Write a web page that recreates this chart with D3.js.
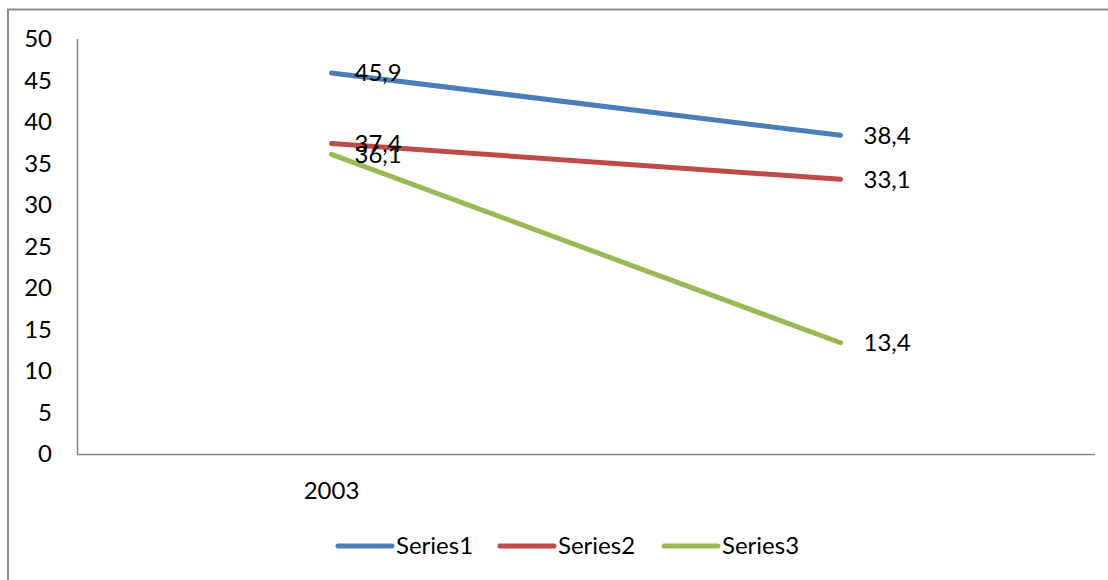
<!DOCTYPE html>
<html><head><meta charset="utf-8">
<script src="https://cdn.jsdelivr.net/npm/d3@7"></script>
<style>body{margin:0;background:#fff;overflow:hidden}</style>
</head><body>
<script>
const categories = ["2003", ""];
const seriesNames = ["Series1", "Series2", "Series3"];
const series1 = [45.9, 38.4];
const series2 = [37.4, 33.1];
const series3 = [36.1, 13.4];
const colors = ["#4A7EBB", "#BE4B48", "#98B954"];
const yTicks = [0, 5, 10, 15, 20, 25, 30, 35, 40, 45, 50];

const W = 1108, H = 580;
const font = "Lato, 'Open Sans', sans-serif";
const fs = 24;
const svg = d3.select("body").append("svg").attr("width", W).attr("height", H);
svg.append("rect").attr("x", 8).attr("y", 9.5).attr("width", 1200).attr("height", 700)
  .attr("fill", "none").attr("stroke", "#8c8c8c").attr("stroke-width", 2);

const x = d3.scaleBand().domain(categories).range([77, 1095]);
const y = d3.scaleLinear().domain([0, 50]).range([454, 39]);

// axes
svg.append("line").attr("x1", 77.5).attr("x2", 77.5).attr("y1", y(50)).attr("y2", y(0))
  .attr("stroke", "#868686").attr("stroke-width", 1.5);
svg.append("line").attr("x1", 77).attr("x2", 1095).attr("y1", y(0)+0.5).attr("y2", y(0)+0.5)
  .attr("stroke", "#868686").attr("stroke-width", 1.5);

svg.selectAll(".yt").data(yTicks).enter().append("text")
  .attr("x", 52).attr("y", d => y(d)).attr("dy", "0.35em").attr("text-anchor", "end")
  .attr("font-family", font).attr("font-size", fs).attr("fill", "#000").text(d => d);

svg.selectAll(".xt").data(categories).enter().append("text")
  .attr("x", d => x(d) + x.bandwidth()/2).attr("y", 491).attr("dy", "0.35em")
  .attr("text-anchor", "middle").attr("font-family", font).attr("font-size", fs).text(d => d);

const allSeries = [series1, series2, series3];
const line = d3.line().x((d, i) => x(categories[i]) + x.bandwidth()/2).y(d => y(d));
allSeries.forEach((s, k) => {
  svg.append("path").attr("d", line(s)).attr("fill", "none").attr("stroke", colors[k])
    .attr("stroke-width", 5).attr("stroke-linecap", "round").attr("stroke-linejoin", "round");
});
allSeries.forEach((s, k) => {
  s.forEach((v, i) => {
    svg.append("text").attr("x", x(categories[i]) + x.bandwidth()/2 + 23).attr("y", y(v))
      .attr("dy", "0.35em").attr("font-family", font).attr("font-size", fs).attr("fill", "#000")
      .text(String(v).replace(".", ","));
  });
});

// legend
const legX = [338, 500, 664];
seriesNames.forEach((n, k) => {
  svg.append("line").attr("x1", legX[k]).attr("x2", legX[k] + 54).attr("y1", 546).attr("y2", 546)
    .attr("stroke", colors[k]).attr("stroke-width", 5).attr("stroke-linecap", "round");
  svg.append("text").attr("x", legX[k] + 58).attr("y", 546).attr("dy", "0.35em")
    .attr("font-family", font).attr("font-size", fs).text(n);
});
</script>
</body></html>
